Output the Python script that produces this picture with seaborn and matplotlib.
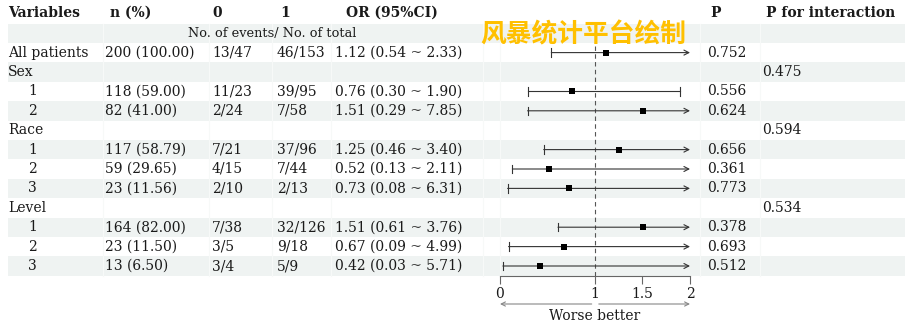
import matplotlib
matplotlib.use("Agg")
import matplotlib.pyplot as plt
from matplotlib.patches import Rectangle
import seaborn as sns
import pandas as pd

# ---------------- data ----------------
labels = ["All patients", "Sex", "1", "2", "Race", "1", "2", "3", "Level", "1", "2", "3"]
is_level = [False, False, True, True, False, True, True, True, False, True, True, True]
n_pct = ["200 (100.00)", "", "118 (59.00)", "82 (41.00)", "", "117 (58.79)", "59 (29.65)",
         "23 (11.56)", "", "164 (82.00)", "23 (11.50)", "13 (6.50)"]
events0 = ["13/47", "", "11/23", "2/24", "", "7/21", "4/15", "2/10", "", "7/38", "3/5", "3/4"]
events1 = ["46/153", "", "39/95", "7/58", "", "37/96", "7/44", "2/13", "", "32/126", "9/18", "5/9"]
or_est = [1.12, None, 0.76, 1.51, None, 1.25, 0.52, 0.73, None, 1.51, 0.67, 0.42]
or_low = [0.54, None, 0.30, 0.29, None, 0.46, 0.13, 0.08, None, 0.61, 0.09, 0.03]
or_high = [2.33, None, 1.90, 7.85, None, 3.40, 2.11, 6.31, None, 3.76, 4.99, 5.71]
p_value = ["0.752", "", "0.556", "0.624", "", "0.656", "0.361", "0.773", "", "0.378", "0.693", "0.512"]
p_interaction = ["", "0.475", "", "", "0.594", "", "", "", "0.534", "", "", ""]
headers = ["Variables", "n (%)", "0", "1", "OR (95%CI)", "P", "P for interaction"]
subheader = "No. of events/ No. of total"
axis_ticks = [0, 1, 1.5, 2]
axis_ticklabels = ["0", "1", "1.5", "2"]
x_limits = (0, 2)
ref_value = 1
watermark = "风暴统计平台绘制"
direction_label = "Worse better"

# ---------------- layout ----------------
W, H = 908, 324
ROW_TOP, ROW_H = 23.5, 19.4
FS = 10
SHADE = "#eff3f2"
TXT = "#1a1a1a"

plt.rcParams["font.family"] = ["DejaVu Serif"]

def py(i):
    return ROW_TOP + ROW_H * (i + 0.5)

fig = plt.figure(figsize=(W / 100, H / 100), dpi=100)
ax = fig.add_axes([0, 0, 1, 1])
ax.set_xlim(0, W)
ax.set_ylim(H, 0)
ax.axis("off")

n_rows = len(labels) + 1  # subheader + data rows
for i in range(n_rows):
    if i % 2 == 0:
        ax.add_patch(Rectangle((8, ROW_TOP + ROW_H * i), 897, ROW_H, facecolor=SHADE,
                               edgecolor="none", zorder=0))
for xb in [103, 209, 272, 331, 483, 500, 700, 760]:
    ax.plot([xb, xb], [ROW_TOP, ROW_TOP + ROW_H * n_rows], color="#f7f9f8", lw=0.8, zorder=0.5)

# headers
hx = [8, 110, 212, 280, 346, 710, 766]
for x, t in zip(hx, headers):
    ax.text(x, 13, t, fontsize=FS, fontweight="bold", ha="left", va="center", color=TXT)
ax.text(272, py(0), subheader, fontsize=9.3, ha="center", va="center", color=TXT)

# table body
for k, lab in enumerate(labels):
    y = py(k + 1)
    ax.text(28 if is_level[k] else 8, y, lab, fontsize=FS, ha="left", va="center", color=TXT)
    ax.text(105, y, n_pct[k], fontsize=FS, ha="left", va="center", color=TXT)
    ax.text(212, y, events0[k], fontsize=FS, ha="left", va="center", color=TXT)
    ax.text(277, y, events1[k], fontsize=FS, ha="left", va="center", color=TXT)
    if or_est[k] is not None:
        ax.text(335, y, f"{or_est[k]:.2f} ({or_low[k]:.2f} ~ {or_high[k]:.2f})",
                fontsize=FS, ha="left", va="center", color=TXT)
    ax.text(707, y, p_value[k], fontsize=FS, ha="left", va="center", color=TXT)
    ax.text(762, y, p_interaction[k], fontsize=FS, ha="left", va="center", color=TXT)

# ---------------- forest panel ----------------
bottom = ROW_TOP + ROW_H * n_rows
fax = fig.add_axes([500 / W, 1 - bottom / H, 190 / W, (bottom - ROW_TOP) / H])
fax.patch.set_alpha(0)
fax.set_xlim(*x_limits)
fax.set_ylim(n_rows - 0.5, -0.5)

df = pd.DataFrame({"row": range(1, len(labels) + 1), "est": or_est,
                   "low": or_low, "high": or_high}).dropna()

fax.axvline(ref_value, color="#555555", ls=(0, (4, 3)), lw=0.8, zorder=1)

LC = "#333333"
cap = 0.22
for _, r in df.iterrows():
    y = r["row"]
    fax.plot([r["low"], r["low"]], [y - cap, y + cap], color=LC, lw=0.8, zorder=2)
    if r["high"] > x_limits[1]:
        fax.annotate("", xy=(x_limits[1], y), xytext=(r["low"], y),
                     arrowprops=dict(arrowstyle="->,head_length=0.35,head_width=0.18",
                                     color=LC, lw=0.8, shrinkA=0, shrinkB=0), zorder=2)
    else:
        fax.plot([r["low"], r["high"]], [y, y], color=LC, lw=0.8, zorder=2)
        fax.plot([r["high"], r["high"]], [y - cap, y + cap], color=LC, lw=0.8, zorder=2)

sns.scatterplot(data=df, x="est", y="row", marker="s", s=24, color="black",
                linewidth=0, ax=fax, legend=False, zorder=5)

fax.set_xlabel("")
fax.set_ylabel("")
fax.set_yticks([])
fax.set_xticks(axis_ticks)
fax.set_xticklabels(axis_ticklabels)
for s in ["left", "right", "top"]:
    fax.spines[s].set_visible(False)
fax.spines["bottom"].set_color("#666666")
fax.spines["bottom"].set_linewidth(0.8)
fax.tick_params(axis="x", direction="out", length=6, width=0.8, color="#666666",
                labelsize=FS, labelcolor=TXT, pad=2)

# direction arrows and label
ay = H - 304
fax.annotate("", xy=(x_limits[0], ay), xytext=(0.965, ay), xycoords=("data", "figure pixels"),
             textcoords=("data", "figure pixels"),
             arrowprops=dict(arrowstyle="->,head_length=0.3,head_width=0.15", color="#888888",
                             lw=0.8, shrinkA=0, shrinkB=0), annotation_clip=False)
fax.annotate("", xy=(x_limits[1], ay), xytext=(1.04, ay), xycoords=("data", "figure pixels"),
             textcoords=("data", "figure pixels"),
             arrowprops=dict(arrowstyle="->,head_length=0.3,head_width=0.15", color="#888888",
                             lw=0.8, shrinkA=0, shrinkB=0), annotation_clip=False)
fax.annotate(direction_label, xy=(0.995, H - 316), xycoords=("data", "figure pixels"),
             fontsize=FS, ha="center", va="center", color=TXT, annotation_clip=False)

# watermark
fig.text(583 / W, 1 - 35 / H, watermark, fontfamily=["Noto Sans CJK SC", "DejaVu Sans"],
         fontweight="bold", fontsize=18.5, color="#FFC000", ha="center", va="center", zorder=10)

fig.savefig("out.png", dpi=100)
